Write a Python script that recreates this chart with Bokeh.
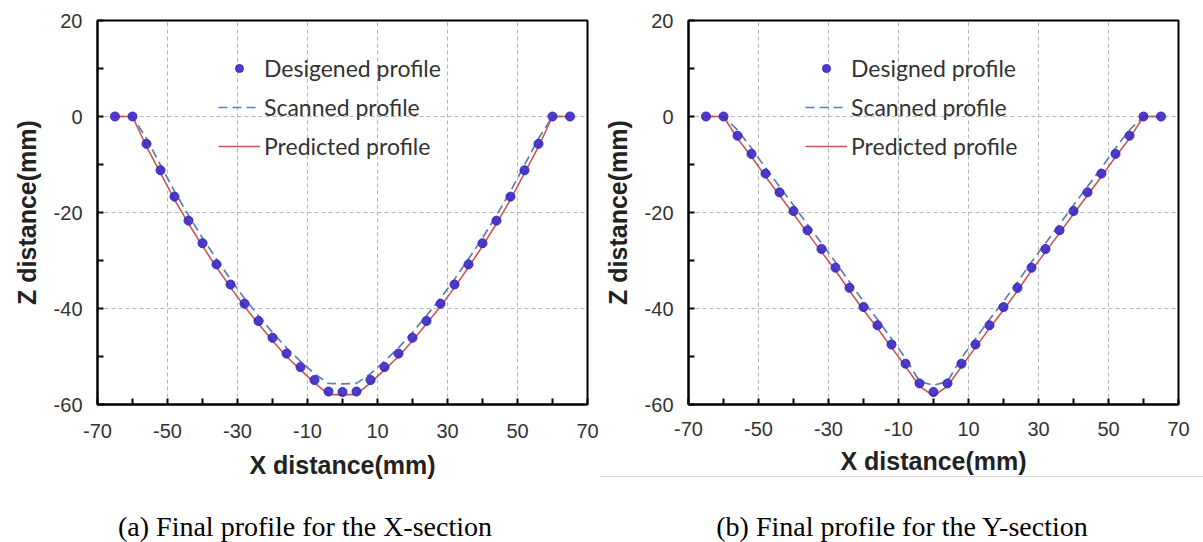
from bokeh.plotting import figure
from bokeh.layouts import row, column
from bokeh.models import Range1d, FixedTicker, Legend, LegendItem, Div, CustomJSTickFormatter
from bokeh.embed import file_html
from bokeh.resources import INLINE

# ---------------- data ----------------
x_pos = [-65, -60, -56, -52, -48, -44, -40, -36, -32, -28, -24, -20, -16, -12, -8, -4, 0,
         4, 8, 12, 16, 20, 24, 28, 32, 36, 40, 44, 48, 52, 56, 60, 65]

# (a) X-section
designed_xsec = [0, 0, -5.7, -11.2, -16.7, -21.7, -26.4, -30.8, -35.0, -39.0, -42.6, -46.1, -49.4, -52.2, -54.9, -57.3, -57.4,
                 -57.3, -54.9, -52.2, -49.4, -46.1, -42.6, -39.0, -35.0, -30.8, -26.4, -21.7, -16.7, -11.2, -5.7, 0, 0]
scanned_xsec = [0, 0, -4.6, -10.1, -15.6, -20.6, -25.3, -29.7, -33.9, -37.9, -41.5, -45.0, -48.2, -51.0, -53.6, -55.6, -55.7,
                -55.6, -53.6, -51.0, -48.2, -45.0, -41.5, -37.9, -33.9, -29.7, -25.3, -20.6, -15.6, -10.1, -4.6, 0, 0]
predicted_xsec = [0, 0, -6.3, -11.8, -17.3, -22.3, -27.0, -31.4, -35.6, -39.6, -43.2, -46.7, -50.0, -52.8, -55.5, -57.9, -58.0,
                  -57.9, -55.5, -52.8, -50.0, -46.7, -43.2, -39.6, -35.6, -31.4, -27.0, -22.3, -17.3, -11.8, -6.3, 0, 0]

# (b) Y-section
designed_ysec = [0, 0, -4.0, -7.8, -11.9, -15.8, -19.7, -23.7, -27.6, -31.5, -35.7, -39.7, -43.5, -47.5, -51.5, -55.6, -57.4,
                 -55.6, -51.5, -47.5, -43.5, -39.7, -35.7, -31.5, -27.6, -23.7, -19.7, -15.8, -11.9, -7.8, -4.0, 0, 0]
scanned_ysec = [0, 0, -2.8, -6.6, -10.7, -14.6, -18.5, -22.5, -26.4, -30.3, -34.5, -38.5, -42.3, -46.3, -50.3, -55.2, -56.0,
                -55.2, -50.3, -46.3, -42.3, -38.5, -34.5, -30.3, -26.4, -22.5, -18.5, -14.6, -10.7, -6.6, -2.8, 0, 0]
predicted_ysec = [0, 0, -4.6, -8.4, -12.5, -16.4, -20.3, -24.3, -28.2, -32.1, -36.3, -40.3, -44.1, -48.1, -52.1, -56.2, -58.2,
                  -56.2, -52.1, -48.1, -44.1, -40.3, -36.3, -32.1, -28.2, -24.3, -20.3, -16.4, -12.5, -8.4, -4.6, 0, 0]

x_ticks = [-70, -50, -30, -10, 10, 30, 50, 70]
x_minor = [-60, -40, -20, 0, 20, 40, 60]
y_ticks = [-60, -40, -20, 0, 20]
y_minor = [-50, -30, -10, 10]

label_a = "Desigened profile"
label_b = "Designed profile"
label_scan = "Scanned profile"
label_pred = "Predicted profile"
caption_a = "(a) Final profile for the X-section"
caption_b = "(b) Final profile for the Y-section"


def make_panel(width, border_left, border_right, xs, des, scan, pred, des_label, legend_x,
               xlab_standoff, xtitle_standoff):
    p = figure(width=width, height=490, x_range=Range1d(-70, 70), y_range=Range1d(-60, 20),
               output_backend="svg", toolbar_location=None,
               min_border_left=border_left, min_border_right=border_right,
               min_border_top=20, min_border_bottom=86)
    p.background_fill_color = "white"
    p.border_fill_color = "white"
    p.outline_line_color = "black"
    p.outline_line_width = 2

    p.xaxis.ticker = FixedTicker(ticks=x_ticks, minor_ticks=x_minor)
    p.yaxis.ticker = FixedTicker(ticks=y_ticks, minor_ticks=y_minor)
    fmt = CustomJSTickFormatter(code="return String(tick);")
    for ax in (p.xaxis[0], p.yaxis[0]):
        ax.formatter = fmt
        ax.axis_line_color = "black"
        ax.axis_line_width = 2
        ax.major_tick_in = 6
        ax.major_tick_out = 0
        ax.minor_tick_in = 6
        ax.minor_tick_out = 0
        ax.major_tick_line_color = "black"
        ax.minor_tick_line_color = "black"
        ax.major_tick_line_width = 2
        ax.minor_tick_line_width = 2
        ax.major_label_text_font = "Liberation Sans"
        ax.major_label_text_font_size = "20px"
        ax.major_label_text_color = "#333333"
        ax.axis_label_text_font = "Liberation Sans"
        ax.axis_label_text_font_size = "25px"
        ax.axis_label_text_font_style = "bold"
        ax.axis_label_text_color = "#222222"
    p.xaxis.axis_label = "X distance(mm)"
    p.yaxis.axis_label = "Z distance(mm)"
    p.xaxis.major_label_standoff = xlab_standoff
    p.xaxis.axis_label_standoff = xtitle_standoff
    p.yaxis.major_label_standoff = 15
    p.yaxis.axis_label_standoff = 10

    p.grid.grid_line_color = "#b5b5b5"
    p.grid.grid_line_dash = "4 3"
    p.grid.grid_line_width = 1

    ls = p.line(xs, scan, line_color="#5b7fae", line_width=1.7, line_dash="9 5")
    lp = p.line(xs, pred, line_color="#c8584f", line_width=1.6)
    sc = p.scatter(xs, des, size=9, marker="circle", fill_color="#3a28c4",
                   line_color="#3a28c4", fill_alpha=0.9)

    legend = Legend(items=[LegendItem(label=des_label, renderers=[sc]),
                           LegendItem(label=label_scan, renderers=[ls]),
                           LegendItem(label=label_pred, renderers=[lp])],
                    location=(legend_x, 244), border_line_color=None,
                    background_fill_alpha=0, label_text_font="Lato",
                    label_text_font_size="23px", label_text_color="#333333",
                    glyph_width=42, glyph_height=20, label_height=20,
                    spacing=11, padding=0, margin=0, label_standoff=4)
    p.add_layout(legend)
    return p


left = make_panel(600, 97, 13, x_pos, designed_xsec, scanned_xsec, predicted_xsec,
                  label_a, 121, 19, 10)
right = make_panel(603, 88, 25, x_pos, designed_ysec, scanned_ysec, predicted_ysec,
                   label_b, 117, 17, 8)

font = "font-family:'Liberation Serif','Times New Roman',serif;font-size:28px;color:black;"
cap_html = (
    '<div style="position:relative;width:1198px;height:46px;margin:0;padding:0;">'
    '<div style="position:absolute;left:595px;top:-19px;width:608px;height:0;'
    'border-top:1px solid #d9d9d9;"></div>'
    '<div style="position:absolute;left:-5px;top:18px;width:610px;text-align:center;'
    'white-space:nowrap;line-height:28px;%s">%s</div>'
    '<div style="position:absolute;left:605px;top:18px;width:584px;text-align:center;'
    'white-space:nowrap;line-height:28px;%s">%s</div>'
    '</div>' % (font, caption_a, font, caption_b)
)
captions = Div(text=cap_html, width=1203, height=52, styles={"overflow": "visible"})

layout = column(row(left, right), captions)
open("out.html", "w").write(file_html(layout, INLINE))
